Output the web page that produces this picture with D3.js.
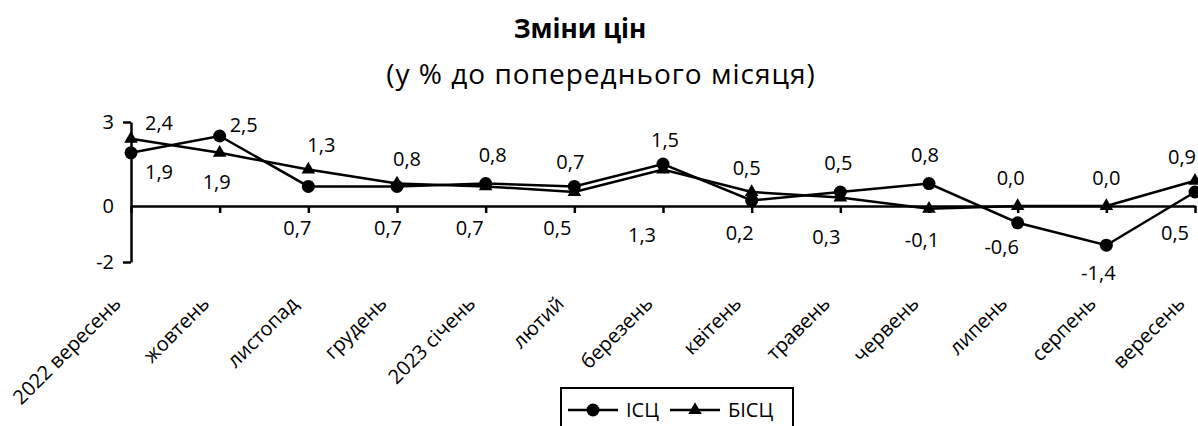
<!DOCTYPE html>
<html>
<head>
<meta charset="utf-8">
<script src="https://cdn.jsdelivr.net/npm/d3@7"></script>
<style>
  body { margin: 0; background: #fff; }
  text { font-family: "Open Sans", sans-serif; fill: #000; }
</style>
</head>
<body>
<svg id="chart" width="1198" height="426"></svg>
<script>
var months = ["2022 вересень", "жовтень", "листопад", "грудень", "2023 січень", "лютий",
              "березень", "квітень", "травень", "червень", "липень", "серпень", "вересень"];
var isc  = [1.9, 2.5, 0.7, 0.7, 0.8, 0.7, 1.5, 0.2, 0.5, 0.8, -0.6, -1.4, 0.5];
var bisc = [2.4, 1.9, 1.3, 0.8, 0.7, 0.5, 1.3, 0.5, 0.3, -0.1, 0.0, 0.0, 0.9];
var yTicks = [3, 0, -2];
var seriesNames = ["ІСЦ", "БІСЦ"];

// label nudges (dx, dy from the marker)
var iscLabelOff = [[28,19],[24,-11],[-11,42],[-9,42],[7,-29],[-4,-24],[2,-24],[-12,33],[-2,-29],[-4,-29],[-16,24],[-8,28],[-20,41]];
var biscLabelOff = [[28,-16],[-3,29],[13,-25],[10,-25],[-16,42],[-17,36],[-21,65],[-5,-24],[-14,39],[-7,31],[-7,-28],[0,-28],[-13,-24]];

var loc = d3.formatLocale({decimal: ",", thousands: " ", grouping: [3], currency: ["", ""], minus: "-"});
var fmt1 = loc.format(".1f");

var svg = d3.select("#chart");

var x = d3.scalePoint().domain(months).range([131, 1195]).padding(0);
var y = d3.scaleLinear().domain([-2, 3]).range([262, 122]);

// titles
svg.append("text").attr("x", 580).attr("y", 38).attr("text-anchor", "middle")
   .style("font-size", "26px").style("font-weight", "bold").text("Зміни цін");
svg.append("text").attr("x", 601).attr("y", 84).attr("text-anchor", "middle")
   .style("font-size", "28px").style("letter-spacing", "1px").text("(у % до попереднього місяця)");

// y axis
var yAxis = svg.append("g").attr("transform", "translate(131,0)")
   .call(d3.axisLeft(y).tickValues(yTicks).tickSize(8).tickSizeOuter(0)
        .tickFormat(function(d) { return loc.format("d")(d); }));
yAxis.select(".domain").attr("stroke", "#000").attr("stroke-width", 2.5);
yAxis.selectAll(".tick line").attr("stroke", "#000").attr("stroke-width", 2.5)
   .attr("x2", function(d) { return d === 0 ? 0 : -8; });
yAxis.selectAll(".tick text").attr("x", -17).style("font-size", "20px")
   .style("font-family", "'Open Sans', sans-serif").attr("fill", "#000");

// x axis along zero
var xAxis = svg.append("g").attr("transform", "translate(0," + y(0) + ")")
   .call(d3.axisBottom(x).tickSize(7).tickSizeOuter(0).tickFormat(""));
xAxis.select(".domain").attr("stroke", "#000").attr("stroke-width", 2.5);
xAxis.selectAll(".tick line").attr("stroke", "#000").attr("stroke-width", 2.5);

// category labels at the bottom, rotated
svg.append("g").selectAll("text").data(months).enter().append("text")
   .attr("transform", function(d) { return "translate(" + (x(d) - 9) + ",305) rotate(-45)"; })
   .attr("text-anchor", "end")
   .style("font-size", "20px")
   .text(function(d) { return d; });

// lines
var line = d3.line()
   .x(function(d, i) { return x(months[i]); })
   .y(function(d) { return y(d); });

svg.append("path").datum(isc).attr("d", line)
   .attr("fill", "none").attr("stroke", "#000").attr("stroke-width", 2.5);
svg.append("path").datum(bisc).attr("d", line)
   .attr("fill", "none").attr("stroke", "#000").attr("stroke-width", 2.5);

var tri = d3.symbol().type(d3.symbolTriangle).size(80);

svg.append("g").selectAll("circle").data(isc).enter().append("circle")
   .attr("cx", function(d, i) { return x(months[i]); })
   .attr("cy", function(d) { return y(d); })
   .attr("r", 6.5).attr("fill", "#000");

svg.append("g").selectAll("path").data(bisc).enter().append("path")
   .attr("d", tri)
   .attr("transform", function(d, i) { return "translate(" + x(months[i]) + "," + y(d) + ")"; })
   .attr("fill", "#000");

// data labels
function addLabels(vals, offs) {
  svg.append("g").selectAll("text").data(vals).enter().append("text")
     .attr("x", function(d, i) { return x(months[i]) + offs[i][0]; })
     .attr("y", function(d, i) { return y(d) + offs[i][1]; })
     .attr("dy", "0.35em")
     .attr("text-anchor", "middle")
     .style("font-size", "20px")
     .text(function(d) { return fmt1(d); });
}
addLabels(isc, iscLabelOff);
addLabels(bisc, biscLabelOff);

// legend
var leg = svg.append("g");
leg.append("rect").attr("x", 561).attr("y", 388).attr("width", 232).attr("height", 50)
   .attr("fill", "#fff").attr("stroke", "#000").attr("stroke-width", 2);

var legItems = leg.selectAll("g.item").data(seriesNames).enter().append("g")
   .attr("class", "item")
   .attr("transform", function(d, i) { return "translate(" + (568 + i * 102) + ",410)"; });
legItems.append("line").attr("x1", 0).attr("x2", 50).attr("y1", 0).attr("y2", 0)
   .attr("stroke", "#000").attr("stroke-width", 2.5);
legItems.each(function(d, i) {
  var g = d3.select(this);
  if (i === 0) g.append("circle").attr("cx", 25).attr("cy", 0).attr("r", 6.5).attr("fill", "#000");
  else g.append("path").attr("d", tri).attr("transform", "translate(25,0)").attr("fill", "#000");
});
legItems.append("text").attr("x", 58).attr("dy", "0.35em")
   .style("font-size", "20px").text(function(d) { return d; });
</script>
</body>
</html>
